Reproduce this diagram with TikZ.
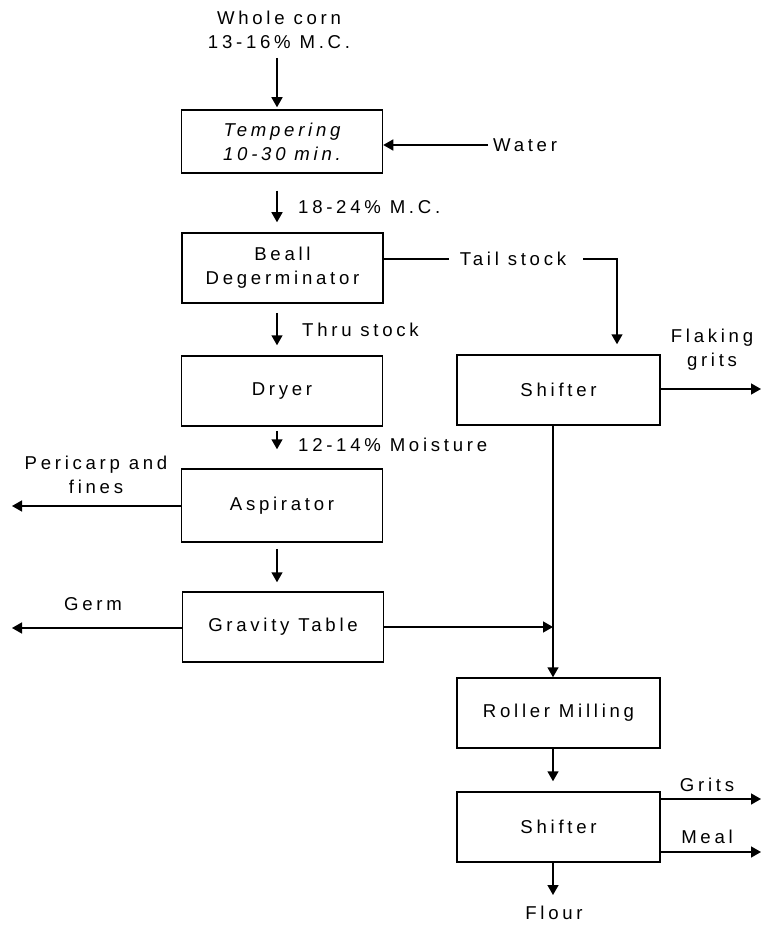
\documentclass[tikz,border=0pt]{standalone}
\usepackage{fontspec}
\setmainfont{Liberation Sans}[LetterSpace=20]
\usetikzlibrary{arrows.meta}
\begin{document}
\begin{tikzpicture}[x=1pt,y=-1pt,
  font=\fontsize{18.6}{24}\selectfont,
  box/.style={draw, line width=1.5pt, minimum width=201pt, minimum height=70pt, inner sep=0pt, align=center},
  lbl/.style={inner sep=0pt, align=center},
  arr/.style={line width=1.5pt, -{Triangle[length=10pt,width=11pt]}},
  ln/.style={line width=1.5pt}]
\useasboundingbox (0,0) rectangle (761,925);
\fill[white] (0,0) rectangle (761,925);
% boxes
\node[box, minimum height=63pt, font=\fontsize{18.6}{24}\selectfont\itshape] (temp) at (282,141.5) {Tempering\\10-30 min.};
\node[box] (beall) at (282.5,268) {Beall\\Degerminator};
\node[box] (dryer) at (282,391) {Dryer};
\node[box, minimum height=73pt] (asp) at (282,505.5) {Aspirator};
\node[box] (grav) at (283,627) {Gravity Table};
\node[box, minimum width=203pt] (shf1) at (558.5,390) {Shifter};
\node[box, minimum width=203pt] (roll) at (558.5,713) {Roller Milling};
\node[box, minimum width=203pt] (shf2) at (558.5,827) {Shifter};
% labels
\node[lbl] (wc) at (279,30) {Whole corn\\13-16\% M.C.};
\node[lbl, anchor=west] (water) at (493,145) {Water};
\node[lbl, anchor=west] (mc) at (298,207) {18-24\% M.C.};
\node[lbl, anchor=west] (thru) at (302,330) {Thru stock};
\node[lbl, anchor=west] (moist) at (298,445) {12-14\% Moisture};
\node[lbl] (tail) at (513,259) {Tail stock};
\node[lbl] (flak) at (712,350) {Flaking\\grits};
\node[lbl] (peri) at (96,475) {Pericarp and\\fines};
\node[lbl] (germ) at (93,604) {Germ};
\node[lbl] (grits) at (707,785) {Grits};
\node[lbl] (meal) at (707,837) {Meal};
\node[lbl] (flour) at (554,913) {Flour};
% coordinates
\coordinate (cx) at (277,0);
\coordinate (tx) at (617,0);
\coordinate (rx) at (553,0);
\coordinate (a0) at (277,58);
\coordinate (fg) at (761,389);
\coordinate (gr) at (761,799);
\coordinate (ml) at (761,852);
\coordinate (fl) at (553,895);
\coordinate (pe) at (12,506);
\coordinate (ge) at (12,628);
% connectors
\draw[arr, shorten >=2pt] (a0) -- (temp.north -| cx);
\draw[arr, shorten <=5pt] (water.west) -- (temp.east |- water.west);
\draw[arr, shorten <=17pt, shorten >=10pt] (temp.south -| cx) -- (beall.north -| cx);
\draw[arr, shorten <=9pt, shorten >=10pt] (beall.south -| cx) -- (dryer.north -| cx);
\draw[arr, shorten <=4pt, shorten >=19pt] (dryer.south -| cx) -- (asp.north -| cx);
\draw[arr, shorten <=6pt, shorten >=9pt] (asp.south -| cx) -- (grav.north -| cx);
\draw[ln] (beall.east |- tail.west) -- ([xshift=-11pt]tail.west);
\draw[arr, shorten >=10pt] ([xshift=17pt]tail.east) -- (tail.east -| tx) -- (shf1.north -| tx);
\draw[arr] (shf1.east |- fg) -- (fg);
\draw[arr] (shf1.south -| rx) -- (roll.north -| rx);
\draw[arr] (grav.east) -- (grav.east -| rx);
\draw[arr, shorten >=10pt] (roll.south -| rx) -- (shf2.north -| rx);
\draw[arr] (shf2.east |- gr) -- (gr);
\draw[arr] (shf2.east |- ml) -- (ml);
\draw[arr] (shf2.south -| rx) -- (fl);
\draw[arr] (asp.west |- pe) -- (pe);
\draw[arr] (grav.west |- ge) -- (ge);
\end{tikzpicture}
\end{document}
